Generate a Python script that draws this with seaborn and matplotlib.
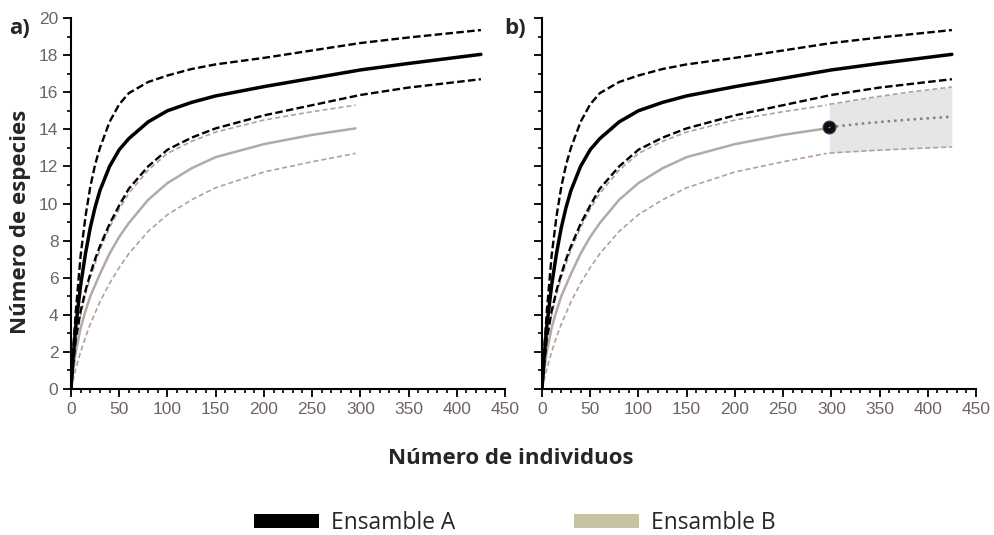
import numpy as np
import pandas as pd
import matplotlib
matplotlib.use("Agg")
import matplotlib.pyplot as plt
import seaborn as sns
from matplotlib.patches import Patch
from matplotlib.ticker import MultipleLocator

# Ensamble A: rarefaction curve and its confidence limits
x_a = [0, 2, 5, 10, 15, 20, 25, 30, 40, 50, 60, 80, 100, 125, 150, 200, 250, 300, 350, 425]
a_mean = [0, 1.6, 3.4, 5.6, 7.3, 8.7, 9.8, 10.7, 12.0, 12.9, 13.5, 14.4, 15.0, 15.45, 15.8,
          16.3, 16.75, 17.2, 17.55, 18.04]
a_high = [0, 1.9, 4.2, 7.2, 9.3, 10.9, 12.1, 13.0, 14.4, 15.35, 15.95, 16.55, 16.9, 17.25,
          17.5, 17.85, 18.25, 18.65, 18.95, 19.35]
a_low = [0, 1.2, 2.7, 4.2, 5.3, 6.2, 7.0, 7.7, 8.9, 9.9, 10.8, 12.0, 12.9, 13.55, 14.05,
         14.75, 15.3, 15.85, 16.25, 16.7]

# Ensamble B: rarefaction curve and its confidence limits
x_b = [0, 2, 5, 10, 15, 20, 30, 40, 50, 60, 80, 100, 125, 150, 200, 250, 295]
b_mean = [0, 0.9, 2.0, 3.3, 4.2, 5.0, 6.2, 7.3, 8.2, 8.95, 10.2, 11.1, 11.9, 12.5, 13.2,
          13.7, 14.05]
b_high = [0, 1.2, 2.6, 4.0, 5.1, 6.0, 7.5, 8.7, 9.7, 10.55, 11.8, 12.7, 13.35, 13.85, 14.5,
          14.95, 15.3]
b_low = [0, 0.45, 1.1, 2.0, 2.8, 3.5, 4.7, 5.7, 6.55, 7.3, 8.5, 9.4, 10.2, 10.85, 11.7,
         12.25, 12.7]

# Ensamble B extrapolated (panel b)
x_ext = [298, 340, 380, 425]
ext_mean = [14.12, 14.35, 14.52, 14.68]
ext_high = [15.35, 15.7, 16.0, 16.28]
ext_low = [12.72, 12.85, 12.95, 13.05]

xticks = [0, 50, 100, 150, 200, 250, 300, 350, 400, 450]
yticks = [0, 2, 4, 6, 8, 10, 12, 14, 16, 18, 20]
panel_labels = ["a)", "b)"]
legend_labels = ["Ensamble A", "Ensamble B"]

sns.set_style("white")
plt.rcParams["font.family"] = ["Liberation Sans", "DejaVu Sans"]

black = "#000000"
grey_solid = "#b3aaa6"
grey_dash = "#b49f99"
tick_col = "#6e6562"
dash_a = (0, (3.2, 1.4))
dash_b = (0, (3.0, 1.8))

fig = plt.figure(figsize=(9.95, 5.35), dpi=100)
ax_a = fig.add_axes([71 / 995, 1 - 389 / 535, 434 / 995, 371 / 535])
ax_b = fig.add_axes([542 / 995, 1 - 389 / 535, 434 / 995, 371 / 535])

for i, ax in enumerate([ax_a, ax_b]):
    sns.lineplot(x=x_b, y=b_low, ax=ax, color=grey_dash, lw=1.2, linestyle=dash_b)
    sns.lineplot(x=x_b, y=b_high, ax=ax, color=grey_dash, lw=1.2, linestyle=dash_b)
    sns.lineplot(x=x_b, y=b_mean, ax=ax, color=grey_solid, lw=1.8)
    sns.lineplot(x=x_a, y=a_low, ax=ax, color=black, lw=1.7, linestyle=dash_a)
    sns.lineplot(x=x_a, y=a_high, ax=ax, color=black, lw=1.7, linestyle=dash_a)
    sns.lineplot(x=x_a, y=a_mean, ax=ax, color=black, lw=2.5)

    if i == 1:
        ax.fill_between(x_ext, ext_low, ext_high, color="#e6e6e6", lw=0, zorder=0)
        sns.lineplot(x=x_ext, y=ext_high, ax=ax, color=grey_dash, lw=1.2, linestyle=dash_b)
        sns.lineplot(x=x_ext, y=ext_low, ax=ax, color=grey_dash, lw=1.2, linestyle=dash_b)
        sns.lineplot(x=x_ext, y=ext_mean, ax=ax, color="#8c7f7a", lw=1.8,
                     linestyle=(0, (1.0, 1.6)))
        ax.scatter([x_ext[0]], [ext_mean[0]], s=85, color="#0d0d14",
                   edgecolor="#3a3f5a", lw=0.8, zorder=5)
        ax.scatter([x_ext[0]], [ext_mean[0]], s=1.5, color="#9a9a9a", lw=0, zorder=6)

    ax.set_xlim(0, 450)
    ax.set_ylim(0, 20)
    ax.set_xticks(xticks)
    ax.set_yticks(yticks)
    ax.xaxis.set_minor_locator(MultipleLocator(10))
    ax.yaxis.set_minor_locator(MultipleLocator(1))
    ax.tick_params(axis="both", which="major", direction="out", length=6, width=1.3,
                   color="black", labelsize=12.5, labelcolor=tick_col, pad=3,
                   bottom=True, left=True)
    ax.tick_params(axis="both", which="minor", direction="out", length=3, width=1.2,
                   color="black", bottom=True, left=True)
    if i == 1:
        ax.tick_params(axis="y", which="both", labelleft=False)
    ax.set_xlabel("")
    ax.set_ylabel("")
    sns.despine(ax=ax)
    for s in ["left", "bottom"]:
        ax.spines[s].set_linewidth(1.5)
        ax.spines[s].set_color("black")
    ax.set_facecolor("none")

fig.text(9 / 995, 1 - 28 / 535, panel_labels[0], fontsize=16, fontweight="bold",
         family="Open Sans", va="center", ha="left")
fig.text(504 / 995, 1 - 28 / 535, panel_labels[1], fontsize=16, fontweight="bold",
         family="Open Sans", va="center", ha="left")

fig.text(511 / 995, 1 - 458 / 535, "Número de individuos", fontsize=16,
         fontweight="bold", family="Open Sans", ha="center", va="center")
fig.text(21 / 995, 1 - 222 / 535, "Número de especies", fontsize=16,
         fontweight="bold", family="Open Sans", ha="center", va="center",
         rotation=90)

handles = [Patch(facecolor="#000000", edgecolor="none"),
           Patch(facecolor="#c9c2a2", edgecolor="none")]
fig.legend(handles, legend_labels, loc="center", bbox_to_anchor=(515 / 995, 1 - 523 / 535),
           ncol=2, frameon=False, prop={"family": "Open Sans", "size": 16.4},
           handlelength=2.85, handleheight=0.62, handletextpad=0.55, columnspacing=5.2)

fig.savefig("out.png", dpi=100)
